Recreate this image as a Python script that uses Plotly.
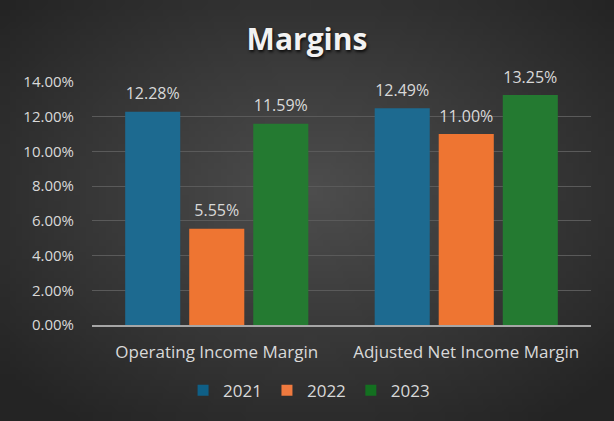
import base64, struct, zlib
import plotly.graph_objects as go

categories = ["Operating Income Margin", "Adjusted Net Income Margin"]
years = ["2021", "2022", "2023"]
values_2021 = [0.1228, 0.1249]
values_2022 = [0.0555, 0.1100]
values_2023 = [0.1159, 0.1325]
colors = ["#1d6a90", "#ee7532", "#247a31"]
legend_colors = ["#0f5f86", "#ef7a3f", "#137020"]
tick_vals = [0, 0.02, 0.04, 0.06, 0.08, 0.10, 0.12, 0.14]


def radial_png(w, h):
    rows = []
    for j in range(h):
        row = bytearray([0])
        for i in range(w):
            dx = (i - w * 0.5) / (w * 0.5)
            dy = (j - h * 0.45) / (h * 0.5)
            d = min(1.0, (dx * dx + dy * dy) ** 0.5 / 1.35)
            v = int(78 - (78 - 36) * d)
            row += bytes([v, v, v])
        rows.append(bytes(row))
    raw = b"".join(rows)

    def chunk(t, data):
        c = struct.pack(">I", len(data)) + t + data
        return c + struct.pack(">I", zlib.crc32(t + data) & 0xFFFFFFFF)

    png = b"\x89PNG\r\n\x1a\n" + chunk(b"IHDR", struct.pack(">IIBBBBB", w, h, 8, 2, 0, 0, 0))
    png += chunk(b"IDAT", zlib.compress(raw, 9)) + chunk(b"IEND", b"")
    return "data:image/png;base64," + base64.b64encode(png).decode()


fig = go.Figure()
series = [values_2021, values_2022, values_2023]
for k, (name, vals, col) in enumerate(zip(years, series, colors)):
    fig.add_trace(go.Bar(
        x=categories, y=vals, name=name, showlegend=False,
        offsetgroup=str(k), alignmentgroup="a",
        marker=dict(color=col, line=dict(width=0)),
    ))
for k, (name, vals) in enumerate(zip(years, series)):
    fig.add_trace(go.Scatter(
        x=categories, y=vals, name=name, showlegend=False,
        offsetgroup=str(k), alignmentgroup="a",
        mode="markers+text", texttemplate="%{y:.2%}", textposition="top center",
        marker=dict(size=12, opacity=0),
        textfont=dict(color="#d9d9d9", size=16, family="Open Sans"),
        cliponaxis=False, hoverinfo="skip",
    ))
for name, col in zip(years, legend_colors):
    fig.add_trace(go.Scatter(
        x=[None], y=[None], name=name, mode="markers",
        marker=dict(symbol="square", size=11, color=col),
    ))

fig.update_layout(
    width=614, height=421,
    margin=dict(l=92, r=23, t=82, b=96),
    paper_bgcolor="#3a3a3a",
    plot_bgcolor="rgba(0,0,0,0)",
    barmode="group", bargap=0.23, bargroupgap=0.14,
    scattermode="group", scattergap=0.23,
    title=dict(text="<b>Margins</b>", x=0.5, xref="container", xanchor="center",
               y=0.905, yref="container", yanchor="middle",
               font=dict(size=30, color="#f2f2f2", family="Open Sans",
                         shadow="1px 2px 3px rgba(0,0,0,0.8)")),
    font=dict(family="Open Sans", color="#d9d9d9", size=15),
    showlegend=True,
    legend=dict(orientation="h", x=0.435, xanchor="center", y=-0.27, yanchor="middle",
                font=dict(size=17, color="#d9d9d9"), itemwidth=30,
                tracegroupgap=0, bgcolor="rgba(0,0,0,0)"),
    images=[dict(source=radial_png(96, 66), xref="paper", yref="paper",
                 x=-92 / 499, y=1 + 82 / 243, sizex=614 / 499, sizey=421 / 243,
                 xanchor="left", yanchor="top", sizing="stretch", layer="below")],
)
fig.update_xaxes(showgrid=False, showline=True, linecolor="#a6a6a6", linewidth=2,
                 tickfont=dict(size=17, color="#d9d9d9"), ticks="", ticklabelstandoff=11)
fig.update_yaxes(range=[0, 0.14], tickvals=tick_vals, tickformat=".2%",
                 showgrid=True, gridcolor="#5a5a5a", gridwidth=1, zeroline=False,
                 tickfont=dict(size=15, color="#d9d9d9"), ticks="", ticklabelstandoff=17)

fig.write_html("out.html")
